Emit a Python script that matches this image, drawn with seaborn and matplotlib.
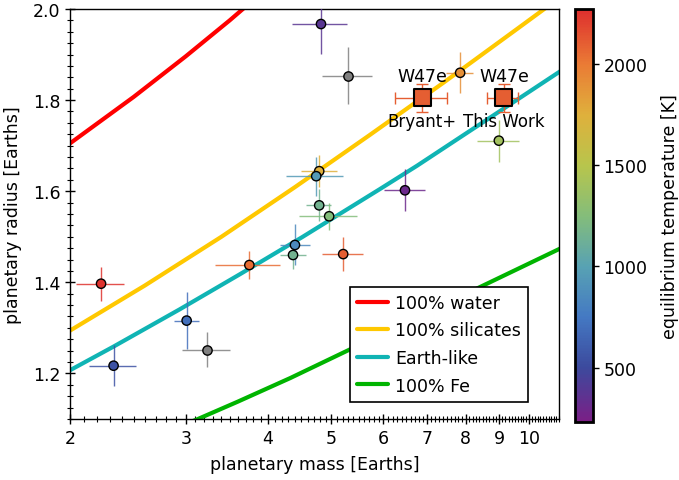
import numpy as np
import pandas as pd
import matplotlib
matplotlib.use('Agg')
import matplotlib.pyplot as plt
import seaborn as sns
from matplotlib.colors import LinearSegmentedColormap, Normalize
from matplotlib.ticker import FixedLocator, MultipleLocator, NullFormatter

# composition curves (mass, radius)
water_mass = [1.9, 2.0, 2.5, 3.0, 3.5, 4.0]
water_radius = [1.684, 1.705, 1.807, 1.896, 1.975, 2.047]
silicate_mass = [1.9, 2.0, 2.6, 3.4, 4.4, 5.7, 7.4, 9.6, 11.5]
silicate_radius = [1.275, 1.294, 1.393, 1.500, 1.609, 1.722, 1.838, 1.957, 2.040]
earth_mass = [1.9, 2.0, 2.33, 2.94, 3.63, 4.51, 5.93, 6.75, 8.6, 11.14, 11.5]
earth_radius = [1.190, 1.207, 1.259, 1.341, 1.418, 1.499, 1.605, 1.656, 1.756, 1.863, 1.876]
iron_mass = [3.0, 3.12, 3.6, 4.33, 5.34, 7.5, 11.14, 11.5]
iron_radius = [1.089, 1.099, 1.138, 1.190, 1.253, 1.355, 1.474, 1.483]

# planets with a known equilibrium temperature
planet_mass = [4.82, 7.85, 8.99, 4.79, 4.74, 6.47, 4.79, 4.96, 4.40, 4.37, 5.21, 3.75, 2.23, 3.01, 2.33]
mass_err = [0.46, 0.37, 0.67, 0.30, 0.47, 0.46, 0.21, 0.50, 0.23, 0.20, 0.38, 0.43, 0.19, 0.13, 0.19]
planet_radius = [1.967, 1.860, 1.711, 1.644, 1.633, 1.602, 1.569, 1.545, 1.482, 1.460, 1.462, 1.438, 1.397, 1.316, 1.217]
radius_err = [0.066, 0.045, 0.046, 0.035, 0.043, 0.046, 0.035, 0.030, 0.045, 0.030, 0.038, 0.030, 0.037, 0.062, 0.045]
planet_teq = [380, 1900, 1400, 1750, 950, 300, 1150, 1250, 850, 1150, 2100, 2050, 2250, 700, 550]

# planets without temperature (grey)
grey_mass = [5.30, 3.23]
grey_mass_err = [0.46, 0.27]
grey_radius = [1.854, 1.252]
grey_radius_err = [0.062, 0.038]

# WASP-47 e
w47_mass = [6.87, 9.15]
w47_mass_lo = [0.63, 0.52]
w47_mass_hi = [0.63, 0.48]
w47_radius = [1.805, 1.805]
w47_radius_err = [0.031, 0.031]
w47_teq = [2100, 2100]
w47_labels = ['Bryant+', 'This Work']

cbar_temps = [233, 500, 750, 1000, 1250, 1500, 1750, 2000, 2270]
cbar_colors = ['#7b1f86', '#3c4a9d', '#4479c3', '#58a2b3', '#84bd7a',
               '#b8c54c', '#dfb03c', '#ea7b35', '#de2f2e']

FS = 12.5

sns.set_theme(style='ticks')
plt.rcParams['font.family'] = ['DejaVu Sans']
plt.rcParams['font.size'] = FS
plt.rcParams['text.color'] = 'black'
plt.rcParams['axes.labelcolor'] = 'black'
plt.rcParams['xtick.color'] = 'black'
plt.rcParams['ytick.color'] = 'black'

vmin, vmax = cbar_temps[0], cbar_temps[-1]
pos = [(t - vmin) / (vmax - vmin) for t in cbar_temps]
cmap = LinearSegmentedColormap.from_list('teq', list(zip(pos, cbar_colors)))
norm = Normalize(vmin=vmin, vmax=vmax)

fig = plt.figure(figsize=(6.79, 4.81), dpi=100)
ax = fig.add_axes([70 / 679, 61 / 481, 489 / 679, 410 / 481])

# curves
sns.lineplot(x=water_mass, y=water_radius, color='#ff0000', lw=3, label='100% water', ax=ax, zorder=2)
sns.lineplot(x=silicate_mass, y=silicate_radius, color='#ffc800', lw=3, label='100% silicates', ax=ax, zorder=2)
sns.lineplot(x=earth_mass, y=earth_radius, color='#10b4b4', lw=3, label='Earth-like', ax=ax, zorder=2)
sns.lineplot(x=iron_mass, y=iron_radius, color='#00b400', lw=3, label='100% Fe', ax=ax, zorder=2)

# error bars
for m, me, r, re, t in zip(planet_mass, mass_err, planet_radius, radius_err, planet_teq):
    ax.errorbar(m, r, xerr=me, yerr=re, fmt='none', ecolor=cmap(norm(t)), elinewidth=1.0,
                alpha=0.85, zorder=3)
for m, me, r, re in zip(grey_mass, grey_mass_err, grey_radius, grey_radius_err):
    ax.errorbar(m, r, xerr=me, yerr=re, fmt='none', ecolor='#808080', elinewidth=1.0,
                alpha=0.85, zorder=3)
for i in range(2):
    ax.errorbar(w47_mass[i], w47_radius[i], xerr=[[w47_mass_lo[i]], [w47_mass_hi[i]]],
                yerr=w47_radius_err[i], fmt='none', ecolor=cmap(norm(w47_teq[i])),
                elinewidth=1.0, capsize=4, capthick=1.0, zorder=3)

pts = pd.DataFrame({'mass': planet_mass, 'radius': planet_radius, 'teq': planet_teq})
sns.scatterplot(data=pts, x='mass', y='radius', hue='teq', palette=cmap, hue_norm=norm,
                s=45, edgecolor='black', linewidth=1, legend=False, ax=ax, zorder=4)
sns.scatterplot(x=grey_mass, y=grey_radius, color='#808080', s=45, edgecolor='black',
                linewidth=1, legend=False, ax=ax, zorder=4)
w47 = pd.DataFrame({'mass': w47_mass, 'radius': w47_radius, 'teq': w47_teq})
sns.scatterplot(data=w47, x='mass', y='radius', hue='teq', palette=cmap, hue_norm=norm,
                marker='s', s=150, edgecolor='black', linewidth=1.5, legend=False, ax=ax, zorder=5)

for m, r, lab in zip(w47_mass, w47_radius, w47_labels):
    ax.annotate('W47e', (m, r), xytext=(0, 15.5), textcoords='offset points',
                ha='center', va='center', fontsize=FS)
    ax.annotate(lab, (m, r), xytext=(0, -17), textcoords='offset points',
                ha='center', va='center', fontsize=12)

ax.set_xscale('log')
ax.set_xlim(2, 11.1)
ax.set_ylim(1.1, 2.0)
ax.set_xticks([2, 3, 4, 5, 6, 7, 8, 9, 10])
ax.set_xticklabels(['2', '3', '4', '5', '6', '7', '8', '9', '10'])
ax.xaxis.set_minor_locator(FixedLocator(np.arange(2.0, 11.15, 0.1)))
ax.xaxis.set_minor_formatter(NullFormatter())
ax.set_yticks([1.2, 1.4, 1.6, 1.8, 2.0])
ax.set_yticklabels(['1.2', '1.4', '1.6', '1.8', '2.0'])
ax.yaxis.set_minor_locator(MultipleLocator(0.025))
ax.tick_params(which='major', direction='inout', length=7, width=1, colors='black',
               labelsize=FS, top=False, right=False)
ax.tick_params(which='minor', direction='inout', length=4, width=0.8, colors='black',
               top=False, right=False)
for s in ax.spines.values():
    s.set_color('black')
    s.set_linewidth(1)
    s.set_visible(True)
ax.set_xlabel('planetary mass [Earths]', fontsize=FS, labelpad=6)
ax.set_ylabel('planetary radius [Earths]', fontsize=FS, labelpad=8)

leg = ax.legend(loc='upper left', bbox_to_anchor=(0.573, 0.322), frameon=True, fancybox=False,
                edgecolor='black', framealpha=1, fontsize=FS, handlelength=1.8,
                handletextpad=0.4, labelspacing=0.55, borderpad=0.4, borderaxespad=0)
leg.get_frame().set_linewidth(1.2)
for line in leg.get_lines():
    line.set_linewidth(3)

cax = fig.add_axes([575 / 679, 58 / 481, 18 / 679, 413 / 481])
sm = plt.cm.ScalarMappable(cmap=cmap, norm=norm)
cb = fig.colorbar(sm, cax=cax)
cb.set_ticks([500, 1000, 1500, 2000])
cb.ax.tick_params(direction='out', length=4, width=1, labelsize=FS, colors='black')
cb.outline.set_linewidth(2)
cb.outline.set_edgecolor('black')
cb.set_label('equilibrium temperature [K]', fontsize=FS, labelpad=10)

fig.savefig('out.png', dpi=100)
